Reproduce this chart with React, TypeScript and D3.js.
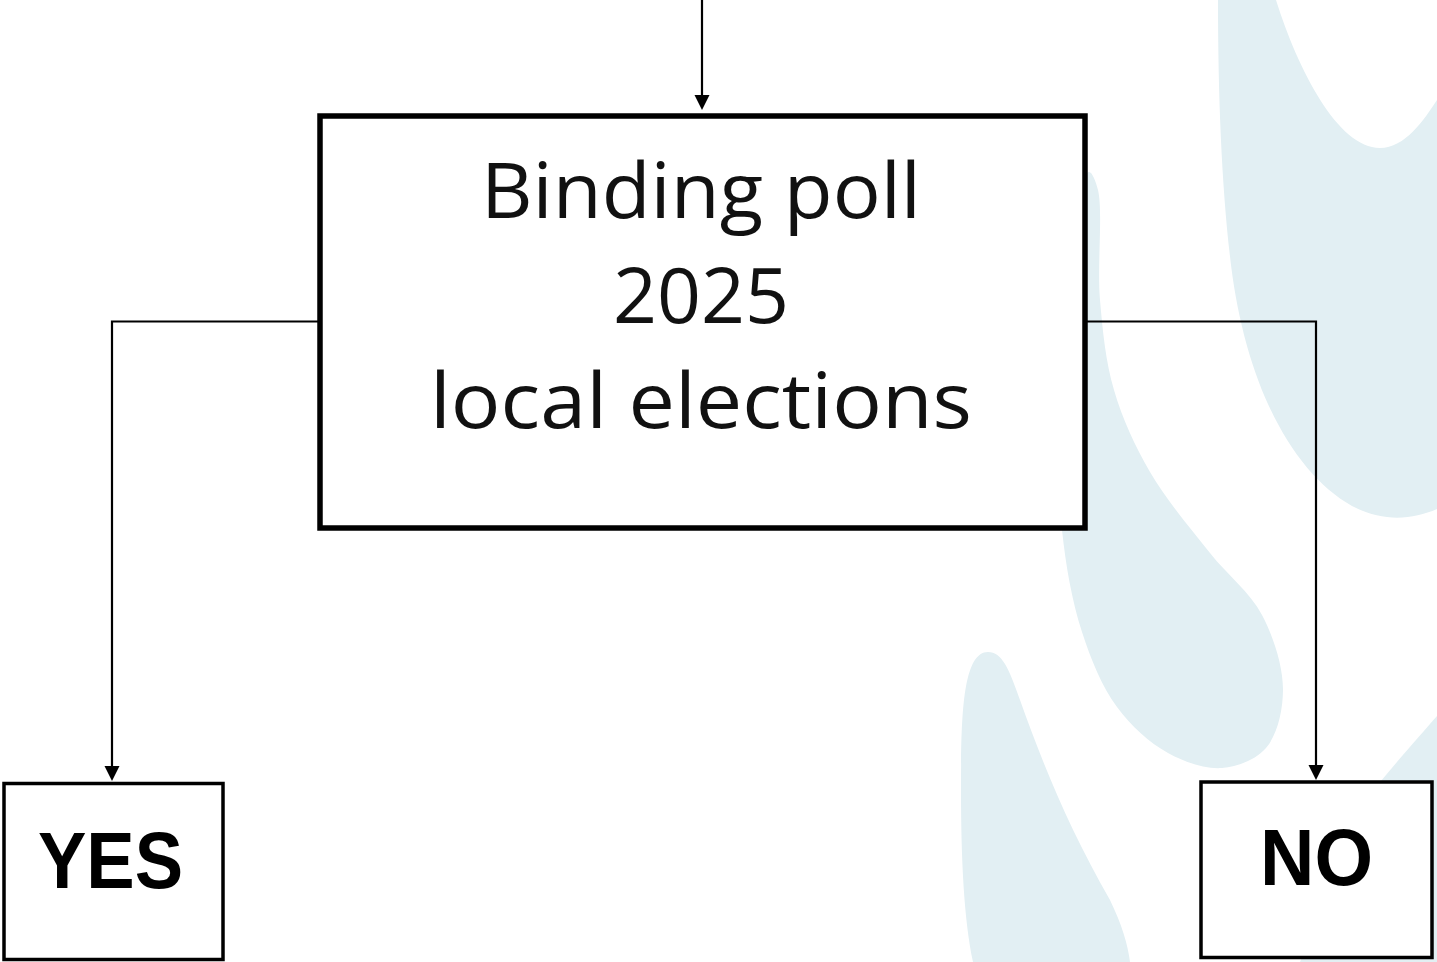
import React from "react";
import * as d3 from "d3";

// ---- content ----
const questionLines = ["Binding poll", "2025", "local elections"];
const outcomes = ["YES", "NO"];

const W = 1437;
const H = 962;
const BG_BLUE = "#e2eff3";

export default function App() {
  // layout
  const main = { x0: 320, x1: 1085, y0: 116, y1: 528 };
  const cx = (main.x0 + main.x1) / 2;
  const outX = d3.scaleOrdinal<string, number>().domain(outcomes).range([112, 1316]);
  const outBox: Record<string, { x0: number; x1: number; y0: number; y1: number; tx: number; base: number; tl: number }> = {
    YES: { x0: 4, x1: 223, y0: 783.5, y1: 959.5, tx: 110.5, base: 888, tl: 145 },
    NO: { x0: 1201, x1: 1432, y0: 782, y1: 957.5, tx: 1316.5, base: 885, tl: 113 },
  };
  const lineY = d3.scaleLinear().domain([0, questionLines.length - 1]).range([218, 428]);
  const lineWidths = [440, 176, 542];
  const connY = 321.5;

  const lineGen = d3.line<[number, number]>();
  const arrow = (x: number, tip: number, h = 15, hw = 7.5) =>
    `M${x - hw},${tip - h}L${x + hw},${tip - h}L${x},${tip}Z`;

  // decorative background shapes
  const shapeA =
    "M1218,0 L1276,0 C1298,70 1338,148 1380,148 C1405,148 1424,120 1437,100 L1437,509 C1412,520 1382,522 1352,506 C1292,472 1246,385 1231,265 C1222,190 1218,100 1218,0 Z";
  const blobB: [number, number][] = [
    [1089, 172], [1098, 190], [1100, 300], [1114, 390], [1150, 472], [1210, 553],
    [1262, 615], [1283, 690], [1266, 748], [1222, 768], [1168, 753], [1117, 707],
    [1082, 632], [1062, 530], [1060, 420], [1066, 300], [1076, 210],
  ];
  const blobPath = d3.line().curve(d3.curveCatmullRomClosed.alpha(0.5))(blobB) || "";
  const shapeC =
    "M973,962 C964,920 961,860 961,790 C961,720 962,652 988,652 C1003,652 1010,672 1020,700 C1045,770 1070,830 1110,900 C1122,925 1128,945 1130,962 Z";
  const shapeD = "M1437,716 C1418,738 1398,760 1372,792 L1300,962 L1437,962 Z";

  return (
    <svg
      width={W}
      height={H}
      viewBox={`0 0 ${W} ${H}`}
      style={{ position: "absolute", left: 0, top: 0, background: "#fff" }}
    >
      <rect x={0} y={0} width={W} height={H} fill="#fff" />
      <g fill={BG_BLUE}>
        <path d={shapeA} />
        <path d={blobPath} />
        <path d={shapeC} />
        <path d={shapeD} />
      </g>

      {/* connectors */}
      <g stroke="#000" strokeWidth={2.2} fill="none">
        <path d={lineGen([[cx - 0.5, 0], [cx - 0.5, 97]]) || ""} />
        <path d={lineGen([[main.x0, connY], [outX("YES"), connY], [outX("YES"), 768]]) || ""} />
        <path d={lineGen([[main.x1, connY], [outX("NO"), connY], [outX("NO"), 767]]) || ""} />
      </g>
      <g fill="#000">
        <path d={arrow(cx - 0.5, 110)} />
        <path d={arrow(outX("YES"), 781)} />
        <path d={arrow(outX("NO"), 780)} />
      </g>

      {/* main box */}
      <rect
        x={main.x0}
        y={main.y0}
        width={main.x1 - main.x0}
        height={main.y1 - main.y0}
        fill="#fff"
        stroke="#000"
        strokeWidth={5.5}
      />
      {questionLines.map((t, i) => (
        <text
          key={t}
          x={cx - 1.5}
          y={lineY(i)}
          textAnchor="middle"
          fontFamily="'Open Sans', 'Noto Sans', sans-serif"
          fontSize={77}
          textLength={lineWidths[i]}
          lengthAdjust="spacingAndGlyphs"
          fill="#111"
        >
          {t}
        </text>
      ))}

      {/* outcome boxes */}
      {outcomes.map((o) => {
        const b = outBox[o];
        return (
          <g key={o}>
            <rect
              x={b.x0}
              y={b.y0}
              width={b.x1 - b.x0}
              height={b.y1 - b.y0}
              fill="#fff"
              stroke="#000"
              strokeWidth={3.5}
            />
            <text
              x={b.tx}
              y={b.base}
              textAnchor="middle"
              fontFamily="'Liberation Sans', Arial, sans-serif"
              fontWeight="bold"
              fontSize={80}
              textLength={b.tl}
              lengthAdjust="spacingAndGlyphs"
              fill="#000"
            >
              {o}
            </text>
          </g>
        );
      })}
    </svg>
  );
}
